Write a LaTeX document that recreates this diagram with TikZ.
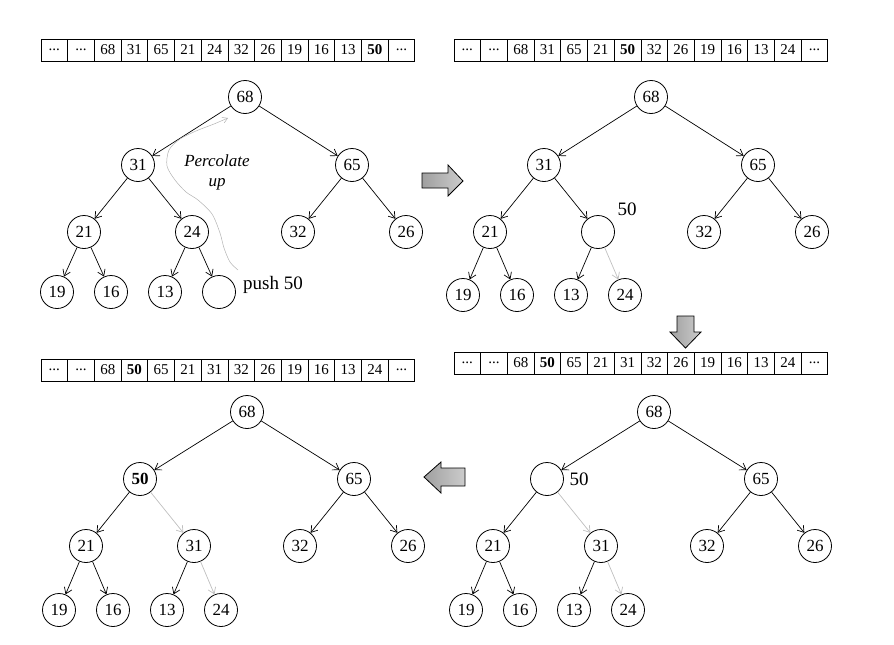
\documentclass[tikz,border=0pt]{standalone}
\usepackage{fontspec}
\setmainfont{Liberation Serif}
\usetikzlibrary{arrows.meta}
\newcommand\eld{...}
\newcommand\bff{\textbf{50}}
\begin{document}
\begin{tikzpicture}[x=1pt,y=-1pt,
  hn/.style={circle,draw,line width=0.8pt,minimum size=33pt,inner sep=0pt,font=\fontsize{17}{17}\selectfont},
  cell/.style={draw,line width=0.7pt,minimum width=26.7pt,minimum height=22pt,inner sep=0pt,font=\fontsize{15}{15}\selectfont},
  edge/.style={-{Straight Barb[length=6pt,width=8pt]},line width=0.7pt},
  gedge/.style={edge,draw=gray!50},
  bigarrow/.style={draw,line width=0.8pt,left color=gray!75,right color=gray!40},
  lbl/.style={font=\fontsize{19}{19}\selectfont,inner sep=0pt}
]
\useasboundingbox (0,0) rectangle (894,645);

% arrays
\foreach \v [count=\i] in {\eld,\eld,68,31,65,21,24,32,26,19,16,13,\bff,\eld}
  \node[cell] (tla\i) at ({41+26.7*(\i-0.5)},50) {\v};
\foreach \v [count=\i] in {\eld,\eld,68,31,65,21,\bff,32,26,19,16,13,24,\eld}
  \node[cell] (tra\i) at ({454+26.7*(\i-0.5)},50) {\v};
\foreach \v [count=\i] in {\eld,\eld,68,\bff,65,21,31,32,26,19,16,13,24,\eld}
  \node[cell] (bla\i) at ({41+26.7*(\i-0.5)},370) {\v};
\foreach \v [count=\i] in {\eld,\eld,68,\bff,65,21,31,32,26,19,16,13,24,\eld}
  \node[cell] (bra\i) at ({454+26.7*(\i-0.5)},363) {\v};

% top-left tree
\begin{scope}[shift={(245,97)},name prefix=tl-]
\node[hn] (r) at (0,0) {68};
\node[hn] (a) at (-107,68) {31};
\node[hn] (b) at (107,68) {65};
\node[hn] (c) at (-161,135) {21};
\node[hn] (d) at (-53,135) {24};
\node[hn] (e) at (53,135) {32};
\node[hn] (f) at (161,135) {26};
\node[hn] (g) at (-188,195) {19};
\node[hn] (h) at (-134,195) {16};
\node[hn] (i) at (-80,195) {13};
\node[hn] (j) at (-26,195) {};
\draw[edge] (r)--(a); \draw[edge] (r)--(b);
\draw[edge] (a)--(c); \draw[edge] (a)--(d);
\draw[edge] (b)--(e); \draw[edge] (b)--(f);
\draw[edge] (c)--(g); \draw[edge] (c)--(h);
\draw[edge] (d)--(i); \draw[edge] (d)--(j);
\node[lbl,anchor=west] (push) at (-2,188) {push 50};
\node[font=\fontsize{17}{20}\selectfont\itshape,align=center] (perc) at (-28,75) {Percolate\\up};
\end{scope}
\draw[gray!60,line width=0.5pt,-{Straight Barb[length=5pt,width=6pt]}] plot[smooth] coordinates {(238,270) (230,262) (224,248) (220,233) (212,214) (198,200) (186,192) (175,180) (167,166) (169,150) (180,139) (196,131) (214,124) (228,118)};

% top-right tree
\begin{scope}[shift={(651,97)},name prefix=tr-]
\node[hn] (r) at (0,0) {68};
\node[hn] (a) at (-107,68) {31};
\node[hn] (b) at (107,68) {65};
\node[hn] (c) at (-161,135) {21};
\node[hn] (d) at (-53,135) {};
\node[hn] (e) at (53,135) {32};
\node[hn] (f) at (161,135) {26};
\node[hn] (g) at (-188,198) {19};
\node[hn] (h) at (-134,198) {16};
\node[hn] (i) at (-80,198) {13};
\node[hn] (j) at (-26,198) {24};
\draw[edge] (r)--(a); \draw[edge] (r)--(b);
\draw[edge] (a)--(c); \draw[edge] (a)--(d);
\draw[edge] (b)--(e); \draw[edge] (b)--(f);
\draw[edge] (c)--(g); \draw[edge] (c)--(h);
\draw[edge] (d)--(i); \draw[gedge] (d)--(j);
\node[lbl] (l50) at (-24,112) {50};
\end{scope}

% bottom-left tree
\begin{scope}[shift={(247,412)},name prefix=bl-]
\node[hn] (r) at (0,0) {68};
\node[hn,font=\fontsize{17}{17}\selectfont\bfseries] (a) at (-107,67) {50};
\node[hn] (b) at (107,67) {65};
\node[hn] (c) at (-161,134) {21};
\node[hn] (d) at (-53,134) {31};
\node[hn] (e) at (53,134) {32};
\node[hn] (f) at (161,134) {26};
\node[hn] (g) at (-188,198) {19};
\node[hn] (h) at (-134,198) {16};
\node[hn] (i) at (-80,198) {13};
\node[hn] (j) at (-26,198) {24};
\draw[edge] (r)--(a); \draw[edge] (r)--(b);
\draw[edge] (a)--(c); \draw[gedge] (a)--(d);
\draw[edge] (b)--(e); \draw[edge] (b)--(f);
\draw[edge] (c)--(g); \draw[edge] (c)--(h);
\draw[edge] (d)--(i); \draw[gedge] (d)--(j);
\end{scope}

% bottom-right tree
\begin{scope}[shift={(654,412)},name prefix=br-]
\node[hn] (r) at (0,0) {68};
\node[hn] (a) at (-107,67) {};
\node[hn] (b) at (107,67) {65};
\node[hn] (c) at (-161,134) {21};
\node[hn] (d) at (-53,134) {31};
\node[hn] (e) at (53,134) {32};
\node[hn] (f) at (161,134) {26};
\node[hn] (g) at (-188,198) {19};
\node[hn] (h) at (-134,198) {16};
\node[hn] (i) at (-80,198) {13};
\node[hn] (j) at (-26,198) {24};
\draw[edge] (r)--(a); \draw[edge] (r)--(b);
\draw[edge] (a)--(c); \draw[gedge] (a)--(d);
\draw[edge] (b)--(e); \draw[edge] (b)--(f);
\draw[edge] (c)--(g); \draw[edge] (c)--(h);
\draw[edge] (d)--(i); \draw[gedge] (d)--(j);
\node[lbl] (l50) at (-75,67) {50};
\end{scope}

% big arrows
\draw[bigarrow] (422,173) -- (448,173) -- (448,165) -- (463,181) -- (448,196) -- (448,188) -- (422,188) -- cycle;
\draw[bigarrow] (677,316) -- (694,316) -- (694,332) -- (701,332) -- (685.5,348) -- (670,332) -- (677,332) -- cycle;
\draw[bigarrow] (465,468) -- (441,468) -- (441,462) -- (424,477) -- (441,493) -- (441,486) -- (465,486) -- cycle;
\end{tikzpicture}
\end{document}
